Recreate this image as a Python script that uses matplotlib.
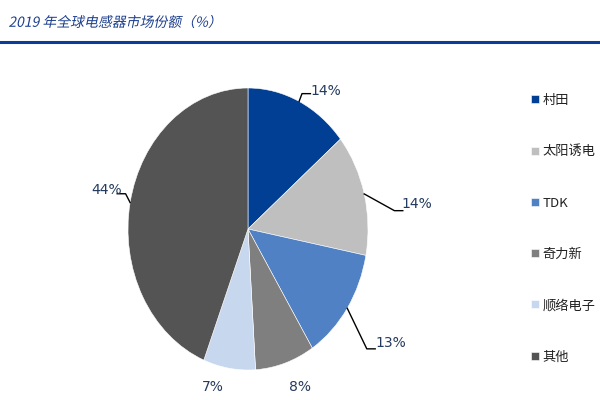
import numpy as np
import matplotlib
matplotlib.use("Agg")
import matplotlib.pyplot as plt
from matplotlib.lines import Line2D
from matplotlib.patheffects import AbstractPathEffect
from matplotlib.transforms import Affine2D

plt.rcParams['font.family'] = ['Noto Sans CJK SC', 'DejaVu Sans']

# ── Data ──────────────────────────────────────────────────────────────────────
TITLE = "2019 年全球电感器市场份额（%）"
companies = ["村田", "太阳诱电", "TDK", "奇力新", "顺络电子", "其他"]
shares = [14, 14, 13, 8, 7, 44]
colors = ["#003f94", "#bfbfbf", "#4f81c4", "#7f7f7f", "#c6d7ee", "#545454"]

# label text positions (pie data coords) and leader-line elbows
label_xy = [(0.65, 0.98), (1.41, 0.18), (1.19, -0.81),
            (0.43, -1.12), (-0.29, -1.12), (-1.18, 0.28)]
elbows = [(0.45, 0.96), (1.22, 0.13), (0.99, -0.85),
          None, None, (-1.02, 0.25)]

TEXT_C = "#243a5e"


# CJK font has no italic face -> shear the glyph outlines
class Oblique(AbstractPathEffect):
    def __init__(self, angle=12):
        super().__init__()
        self.k = np.tan(np.deg2rad(angle))

    def draw_path(self, renderer, gc, tpath, affine, rgbFace=None):
        x0, y0 = affine.transform((0, 0))
        shear = (Affine2D().translate(-x0, -y0)
                 + Affine2D(np.array([[1, self.k, 0], [0, 1, 0], [0, 0, 1]]))
                 + Affine2D().translate(x0, y0))
        renderer.draw_path(gc, tpath, affine + shear, rgbFace)


fig = plt.figure(figsize=(6, 4), dpi=100)

# header
fig.text(0.014, 0.943, TITLE, fontsize=10, color="#1d3f8e",
         ha="left", va="center", path_effects=[Oblique(12)])
fig.add_artist(Line2D([0, 1], [0.8955, 0.8955], color="#0b3c98", lw=2.2,
                      transform=fig.transFigure))

# pie box: x 128..368 px, y 88..370 px (from top)
ax = fig.add_axes([128 / 600, 1 - 370 / 400, 240 / 600, 282 / 400])
wedges, _ = ax.pie(shares, colors=colors, startangle=90, counterclock=False,
                   radius=1.0, wedgeprops=dict(edgecolor="white", lw=0.4))
ax.set_aspect("auto")
ax.set_xlim(-1, 1)
ax.set_ylim(-1, 1)
ax.axis("off")

cum = np.cumsum([0] + shares)
for i, (s, (tx, ty)) in enumerate(zip(shares, label_xy)):
    mid = np.deg2rad(90 - 360 * (cum[i] + s / 2) / sum(shares))
    ax.text(tx, ty, f"{s}%", ha="center", va="center", fontsize=10,
            color=TEXT_C, family="DejaVu Sans", clip_on=False)
    if elbows[i] is not None:
        ex, ey = elbows[i]
        px, py = np.cos(mid), np.sin(mid)
        side = 1 if tx > ex else -1
        ax.plot([px, ex, ex + side * 0.07], [py, ey, ey], color="black",
                lw=1.0, clip_on=False)

fig.legend(wedges, companies, loc="upper left",
           bbox_to_anchor=(0.877, 0.778), frameon=False, fontsize=9.5,
           handlelength=0.55, handleheight=0.55, handletextpad=0.3,
           labelspacing=2.9, labelcolor="#222222", borderaxespad=0)

fig.savefig("out.png", dpi=100)
